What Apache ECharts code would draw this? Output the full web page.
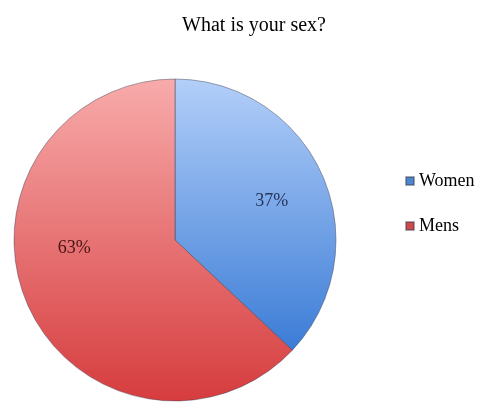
<!DOCTYPE html>
<html><head><meta charset="utf-8">
<script src="https://cdn.jsdelivr.net/npm/echarts@6/dist/echarts.min.js"></script>
<style>html,body{margin:0;padding:0;background:#fff}#c{width:478px;height:404px}</style>
</head><body><div id="c"></div>
<script>
const categories = ['Women', 'Mens'];
const values = [37, 63];
const titleText = 'What is your sex?';

const grads = [
  new echarts.graphic.LinearGradient(0, 0, 0, 1, [{offset: 0, color: '#b3cff9'}, {offset: 1, color: '#3b7cd6'}]),
  new echarts.graphic.LinearGradient(0, 0, 0, 1, [{offset: 0, color: '#f8abab'}, {offset: 1, color: '#d63c3e'}])
];
const labelColors = ['#26355a', '#4a1414'];
const legendColors = ['#4f86d0', '#d0494b'];
const labelShift = [[20, -6], [-24, -25]];

const chart = echarts.init(document.getElementById('c'), null, {renderer: 'canvas'});
chart.setOption({
  animation: false,
  title: {text: titleText, left: 249, top: 11, textAlign: 'center',
    textStyle: {fontFamily: 'Liberation Serif', fontSize: 20, fontWeight: 'normal', color: '#000'}},
  legend: {
    orient: 'vertical', left: 405, top: 172, padding: 0, itemGap: 27, itemWidth: 8, itemHeight: 8, icon: 'rect',
    textStyle: {fontFamily: 'Liberation Serif', fontSize: 18, lineHeight: 18, color: '#000'},
    data: categories.map((c, i) => ({name: c, itemStyle: {color: legendColors[i]}}))
  },
  series: [{
    type: 'pie', center: [175, 240], radius: 161, startAngle: 90, clockwise: true,
    label: {position: 'inside', formatter: '{d}%', fontFamily: 'Liberation Serif', fontSize: 18},
    labelLine: {show: false},
    labelLayout: p => ({dx: labelShift[p.dataIndex][0], dy: labelShift[p.dataIndex][1]}),
    emphasis: {disabled: true},
    data: categories.map((c, i) => ({
      name: c, value: values[i],
      itemStyle: {color: grads[i], borderColor: 'rgba(60,60,80,0.45)', borderWidth: 1},
      label: {color: labelColors[i]}
    }))
  }]
});
</script></body></html>
